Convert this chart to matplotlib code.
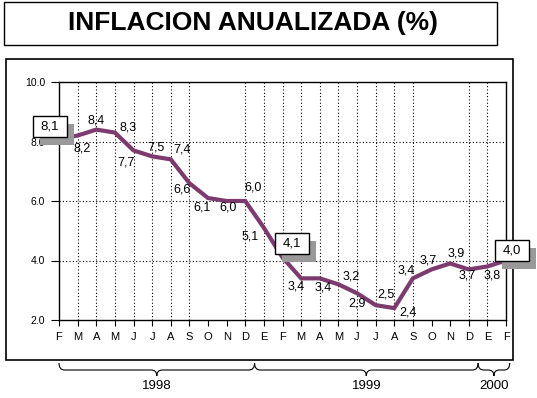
import numpy as np
import matplotlib
matplotlib.use('Agg')
import matplotlib.pyplot as plt
from matplotlib import transforms
from matplotlib.patches import Rectangle, PathPatch
from matplotlib.path import Path

# datos
meses = ['F', 'M', 'A', 'M', 'J', 'J', 'A', 'S', 'O', 'N', 'D', 'E',
         'F', 'M', 'A', 'M', 'J', 'J', 'A', 'S', 'O', 'N', 'D', 'E', 'F']
inflacion = [8.1, 8.2, 8.4, 8.3, 7.7, 7.5, 7.4, 6.6, 6.1, 6.0, 6.0, 5.1,
             4.1, 3.4, 3.4, 3.2, 2.9, 2.5, 2.4, 3.4, 3.7, 3.9, 3.7, 3.8, 4.0]
etiquetas = ['8,1', '8,2', '8,4', '8,3', '7,7', '7,5', '7,4', '6,6', '6,1', '6,0', '6,0', '5,1',
             '4,1', '3,4', '3,4', '3,2', '2,9', '2,5', '2,4', '3,4', '3,7', '3,9', '3,7', '3,8', '4,0']
destacados = [0, 12, 24]
y_ticks = [2, 4, 6, 8, 10]
y_ticklabels = ['2.0', '4.0', '6.0', '8.0', '10.0']
anios = ['1998', '1999', '2000']
anio_inicio = [0, 10.5, 22.5]
anio_fin = [10.5, 22.5, 24.2]

# posicion de las etiquetas (pixeles respecto al punto)
offsets = {1: (5, -13), 2: (0, 9), 3: (13, 5), 4: (-7, -12), 5: (4, 9), 6: (11, 10),
           7: (-7, -6), 8: (-6, -9), 9: (1, -7), 10: (8, 13), 11: (-14, -9),
           13: (-5, -8), 14: (3, -9), 15: (13, 8), 16: (0, -10), 17: (10, 11),
           18: (14, -4), 19: (-7, 8), 20: (-3, 9), 21: (6, 10), 22: (-2, -6), 23: (5, -9)}
offsets_caja = {0: (-9, 12), 12: (9.5, 14.5), 24: (6, 10)}

W, H = 537, 398
COLOR = '#7d3a6f'
FUENTE = 'Liberation Sans'


def show_res():
    fig = plt.figure(figsize=(W / 100, H / 100), dpi=100)
    ax = fig.add_axes([59 / W, 1 - 320 / H, 447 / W, 238 / H])

    x = np.arange(len(meses))
    ax.plot(x, inflacion, color=COLOR, lw=3.0, solid_joinstyle='miter', zorder=3)

    ax.set_xlim(0, len(meses) - 1)
    ax.set_ylim(2, 10)
    ax.set_yticks(y_ticks)
    ax.set_yticklabels(y_ticklabels, fontsize=7.5, family=FUENTE)
    ax.set_xticks(x)
    ax.set_xticklabels(meses, fontsize=8, family=FUENTE)
    ax.tick_params(axis='x', length=4, width=0.8, pad=5)
    ax.tick_params(axis='y', length=6, width=0.8, pad=4)
    for s in ax.spines.values():
        s.set_linewidth(1)

    # rejilla punteada
    for yv in y_ticks[1:-1]:
        ax.axhline(yv, color='black', lw=0.8, ls=(0, (1, 2)), zorder=1)
    for i in x[1:-1]:
        if meses[i] in ('O', 'N'):
            continue
        ax.axvline(i, color='black', lw=0.8, ls=(0, (1, 2)), zorder=1)

    # etiquetas de valores
    for i, v in enumerate(inflacion):
        if i in offsets:
            ax.annotate(etiquetas[i], (i, v), xytext=offsets[i], textcoords='offset pixels',
                        ha='center', va='center', fontsize=9, family=FUENTE, zorder=4)

    # cajas con sombra
    ident = transforms.IdentityTransform()
    bw, bh = 34, 21
    for i in destacados:
        px, py = ax.transData.transform((i, inflacion[i]))
        dx, dy = offsets_caja[i]
        cx, cy = px + dx, py + dy
        fig.add_artist(Rectangle((cx - bw / 2 + 7, cy - bh / 2 - 8), bw, bh, transform=ident,
                                 facecolor='#999999', edgecolor='none', zorder=5))
        fig.add_artist(Rectangle((cx - bw / 2, cy - bh / 2), bw, bh, transform=ident,
                                 facecolor='white', edgecolor='black', lw=1, zorder=6))
        fig.text(cx, cy, etiquetas[i], transform=ident, ha='center', va='center',
                 fontsize=9.5, family=FUENTE, zorder=7)

    # marco exterior
    fig.add_artist(Rectangle((6 / W, 1 - 360 / H), 507 / W, 301 / H, transform=fig.transFigure,
                             facecolor='none', edgecolor='black', lw=1.2, zorder=2))

    # titulo
    fig.add_artist(Rectangle((4 / W, 1 - 45 / H), 493 / W, 43 / H, transform=fig.transFigure,
                             facecolor='none', edgecolor='black', lw=1, zorder=2))
    fig.text(253 / W, 1 - 23 / H, 'INFLACION ANUALIZADA (%)', ha='center', va='center',
             fontsize=19, fontweight='bold', family=FUENTE)

    # llaves de los anios
    tr = transforms.blended_transform_factory(ax.transData, fig.transFigure)
    y_top, y_mid, y_tip = 1 - 363 / H, 1 - 370 / H, 1 - 376 / H
    c = 0.3
    for anio, a, b in zip(anios, anio_inicio, anio_fin):
        m = (a + b) / 2
        verts = [(a, y_top), (a, y_mid), (a + c, y_mid), (m - c, y_mid), (m, y_mid), (m, y_tip),
                 (m, y_mid), (m + c, y_mid), (b - c, y_mid), (b, y_mid), (b, y_top)]
        codes = [Path.MOVETO, Path.CURVE3, Path.CURVE3, Path.LINETO, Path.CURVE3, Path.CURVE3,
                 Path.CURVE3, Path.CURVE3, Path.LINETO, Path.CURVE3, Path.CURVE3]
        fig.add_artist(PathPatch(Path(verts, codes), transform=tr, facecolor='none',
                                 edgecolor='black', lw=0.8))
        fig.text(m, 1 - 386 / H, anio, transform=tr, ha='center', va='center',
                 fontsize=9.5, family=FUENTE)

    fig.savefig('out.png', dpi=100)


def main():
    show_res()


if __name__ == '__main__':
    main()
